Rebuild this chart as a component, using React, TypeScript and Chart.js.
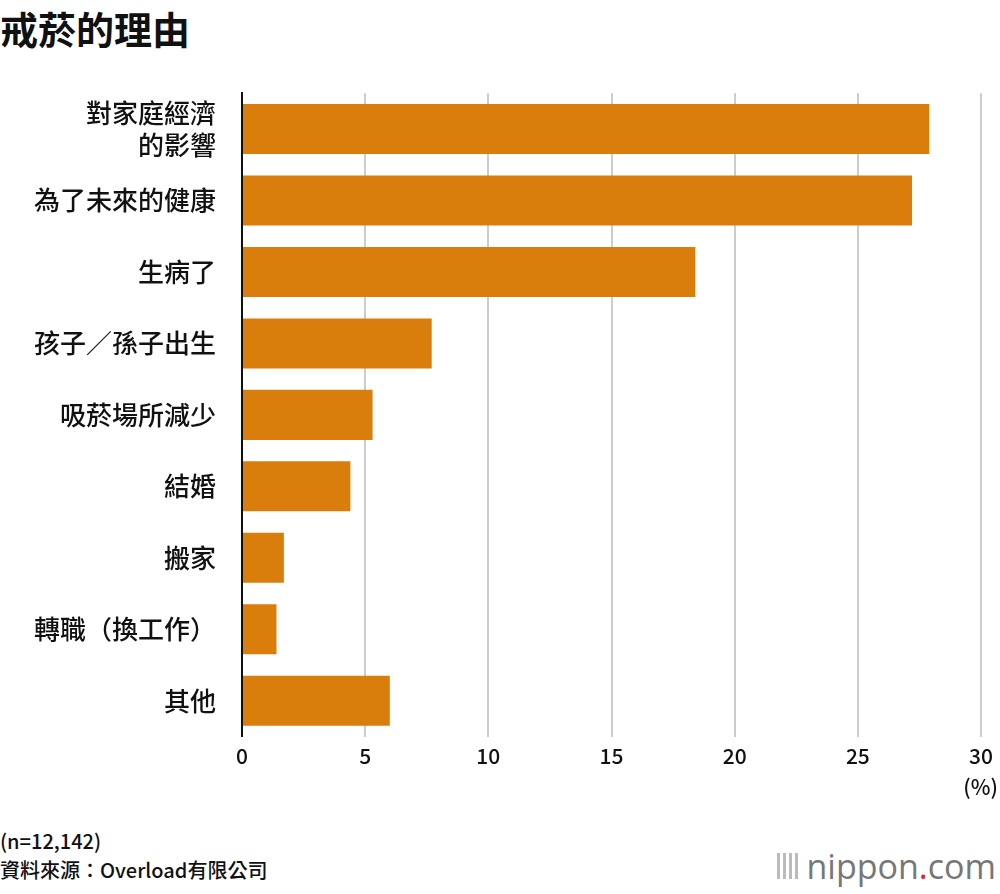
import React, { useEffect, useRef } from "react";
import { Chart, registerables } from "chart.js";

Chart.register(...registerables);

const categories: (string | string[])[] = [
  ["對家庭經濟", "的影響"],
  "為了未來的健康",
  "生病了",
  "孩子／孫子出生",
  "吸菸場所減少",
  "結婚",
  "搬家",
  "轉職（換工作）",
  "其他",
];
const values = [27.9, 27.2, 18.4, 7.7, 5.3, 4.4, 1.7, 1.4, 6.0];
const tickValues = [0, 5, 10, 15, 20, 25, 30];

const FONT = "'Noto Sans CJK TC', 'Noto Sans', sans-serif";

const App: React.FC = () => {
  const canvasRef = useRef<HTMLCanvasElement | null>(null);

  useEffect(() => {
    if (!canvasRef.current) return;
    const chart = new Chart(canvasRef.current, {
      type: "bar",
      data: {
        labels: categories,
        datasets: [
          {
            data: values,
            backgroundColor: "#d97d0d",
            barPercentage: 0.7,
            categoryPercentage: 1,
          },
        ],
      },
      options: {
        indexAxis: "y",
        responsive: false,
        animation: false,
        layout: { padding: { top: 0, right: 8, left: 0, bottom: 0 } },
        plugins: { legend: { display: false }, tooltip: { enabled: false } },
        scales: {
          x: {
            min: 0,
            max: 30,
            afterBuildTicks: (s: any) => {
              s.ticks = tickValues.map((v) => ({ value: v }));
            },
            afterFit: (s: any) => {
              s.height = 44;
            },
            grid: { color: "#cccccc", lineWidth: 2, tickLength: 0, drawTicks: false },
            border: { display: false },
            ticks: { color: "#111", font: { family: FONT, size: 21, weight: 500 }, padding: 7 },
          },
          y: {
            afterFit: (s: any) => {
              s.width = 242;
            },
            grid: { display: false },
            border: { color: "#111", width: 2 },
            ticks: { color: "#111", font: { family: FONT, size: 26, weight: 500, lineHeight: 1.25 }, padding: 18 },
          },
        },
      },
    });
    return () => chart.destroy();
  }, []);

  return (
    <div
      style={{
        position: "fixed",
        left: 0,
        top: 0,
        width: 1000,
        height: 894,
        background: "#fff",
        fontFamily: FONT,
        color: "#111",
      }}
    >
      <div style={{ position: "absolute", left: 0, top: 0, fontSize: 38, fontWeight: 700 }}>
        戒菸的理由
      </div>
      <canvas
        ref={canvasRef}
        width={1000}
        height={728}
        style={{ position: "absolute", left: 0, top: 59, width: 1000, height: 728 }}
      />
      <div style={{ position: "absolute", right: 2, top: 771, fontSize: 21, fontWeight: 500 }}>(%)</div>
      <div style={{ position: "absolute", left: 0, top: 826, fontSize: 20, fontWeight: 500 }}>(n=12,142)</div>
      <div style={{ position: "absolute", left: 0, top: 855, fontSize: 20, fontWeight: 500 }}>
        資料來源：Overload有限公司
      </div>
      <div
        style={{
          position: "absolute",
          right: 4,
          top: 846,
          fontSize: 34,
          color: "#777",
          fontFamily: "'Open Sans', sans-serif",
          lineHeight: "40px",
        }}
      >
        <span style={{ display: "inline-block", width: 22, height: 26, marginRight: 8, background: "repeating-linear-gradient(90deg,#bbb 0 3px,transparent 3px 6px)" }} />
        nippon<span style={{ color: "#e0242b" }}>.</span>com
      </div>
    </div>
  );
};

export default App;
